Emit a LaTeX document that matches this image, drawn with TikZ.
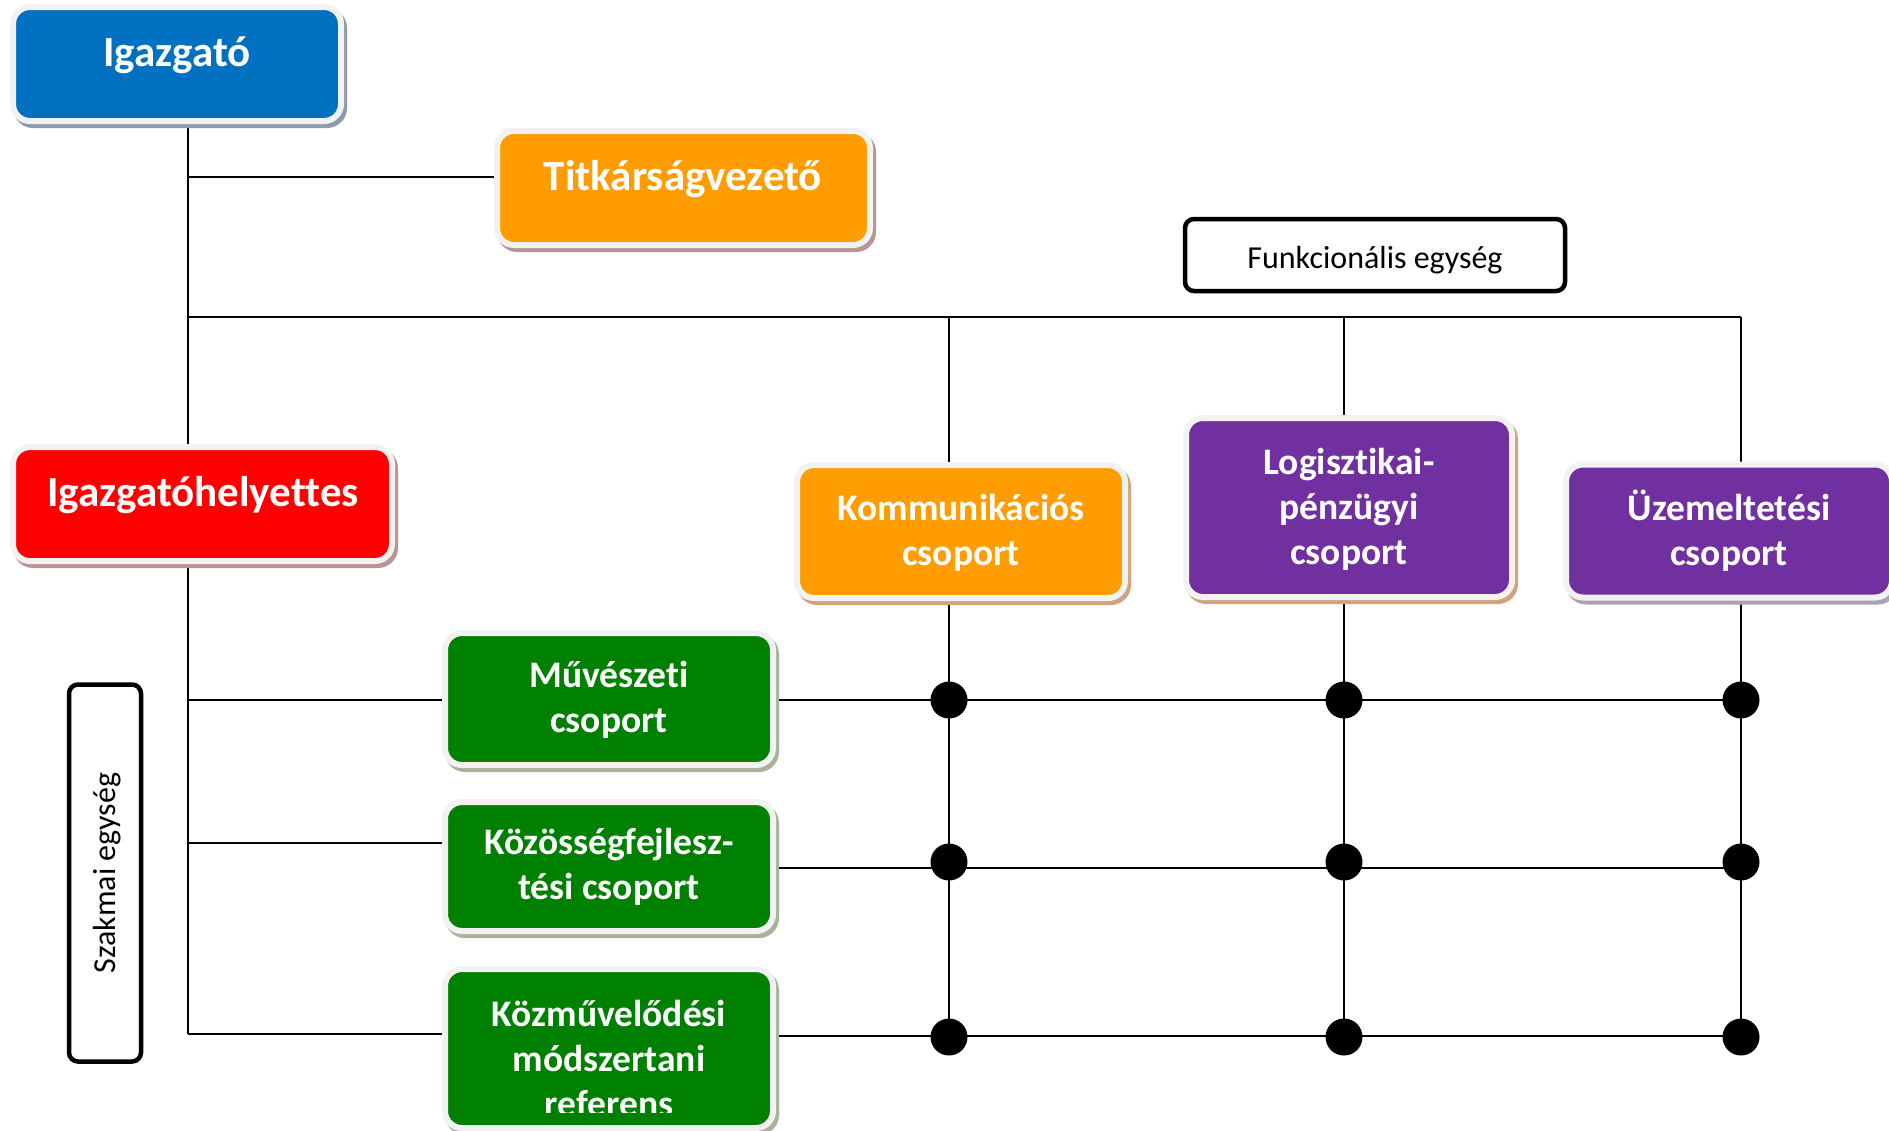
\documentclass[tikz,border=0pt]{standalone}
\usepackage{fontspec}
\setmainfont[Ligatures=NoCommon]{Carlito}
\usetikzlibrary{backgrounds}
\definecolor{cblue}{HTML}{0070C0}
\definecolor{corange}{HTML}{FF9C00}
\definecolor{cred}{HTML}{FF0000}
\definecolor{cpurple}{HTML}{7030A0}
\definecolor{cgreen}{HTML}{008000}
\definecolor{framegray}{HTML}{F2F2F2}
\definecolor{shblue}{HTML}{8E9BAF}
\definecolor{shpink}{HTML}{B89494}
\definecolor{shtan}{HTML}{D2A47E}
\definecolor{shlilac}{HTML}{A9A2B5}
\definecolor{shgreen}{HTML}{A8B299}
\begin{document}
\begin{tikzpicture}[x=1pt,y=-1pt,
  box/.style={rectangle, rounded corners=17pt, draw=framegray, line width=6pt, inner sep=0pt},
  sh/.style={preaction={draw=#1, fill=#1, line width=6pt, transform canvas={shift={(3pt,-4pt)}}}},
  bigtext/.style={text=white, align=center, inner sep=0pt, font=\bfseries\fontsize{43}{50}\selectfont},
  btext/.style={text=white, align=center, inner sep=0pt, font=\bfseries\fontsize{37.5}{45}\selectfont},
  conn/.style={line width=2pt, draw=black},
  dotnode/.style={circle, fill=black, minimum size=37pt, inner sep=0pt},
  unitbox/.style={rectangle, draw=black, line width=4.5pt, rounded corners=9pt, inner sep=0pt},
  unittext/.style={inner sep=0pt, font=\fontsize{32}{38}\selectfont}
]
\useasboundingbox (0,0) rectangle (1889,1130);

% coordinates for connector lines
\coordinate (xT) at (188,0);
\coordinate (xA) at (949,0);
\coordinate (xB) at (1344,0);
\coordinate (xC) at (1741,0);
\coordinate (yT) at (0,177);
\coordinate (yH) at (0,317);
\coordinate (y1) at (0,700);
\coordinate (y2L) at (0,843);
\coordinate (y2R) at (0,868);
\coordinate (y2D) at (0,862);
\coordinate (y3L) at (0,1034);
\coordinate (y3R) at (0,1036);
\coordinate (y3D) at (0,1037);

% boxes
\node[box, sh=shblue, fill=cblue, minimum width=328pt, minimum height=114pt] (igaz) at (177,64) {};
\node[bigtext] (igazT) at (177,55) {Igazgató};

\node[box, sh=shpink, fill=corange, minimum width=373pt, minimum height=114pt] (titk) at (683.5,188) {};
\node[bigtext] (titkT) at (683,179) {Titkárságvezető};

\node[box, sh=shpink, fill=cred, minimum width=379pt, minimum height=114pt] (hely) at (202.5,504) {};
\node[bigtext] (helyT) at (203,495) {Igazgatóhelyettes};

\node[box, sh=shtan, fill=corange, minimum width=328pt, minimum height=133pt] (komm) at (961,531.5) {};
\node[btext] (kommT) at (961,533) {Kommunikációs\\csoport};

\node[box, sh=shtan, fill=cpurple, minimum width=326pt, minimum height=179pt] (logi) at (1349,507.5) {};
\node[btext] (logiT) at (1349,509.5) {Logisztikai-\\pénzügyi\\csoport};

\node[box, sh=shlilac, fill=cpurple, minimum width=326pt, minimum height=133pt] (uzem) at (1729,531) {};
\node[btext] (uzemT) at (1729,531) {Üzemeltetési\\csoport};

\node[box, sh=shgreen, fill=cgreen, minimum width=328pt, minimum height=132pt] (muv) at (609,699) {};
\node[btext] (muvT) at (609,699.5) {Művészeti\\csoport};

\node[box, sh=shgreen, fill=cgreen, minimum width=328pt, minimum height=129pt] (koz) at (609,866.5) {};
\node[btext] (kozT) at (609,867) {Közösségfejlesz-\\tési csoport};

\node[box, sh=shgreen, fill=cgreen, minimum width=328pt, minimum height=159pt] (kozm) at (609,1048.5) {};
\begin{scope}
  \clip (440,960) rectangle (780,1112);
  \node[btext] (kozmT) at (609,1058) {Közművelődési\\módszertani\\referens};
\end{scope}

\node[unitbox, minimum width=380pt, minimum height=72pt] (funk) at (1375,255) {};
\node[unittext] (funkT) at (1375,260) {Funkcionális egység};

\node[unitbox, minimum width=72pt, minimum height=377pt] (szak) at (105,873) {};
\node[unittext, rotate=90] (szakT) at (107,873) {Szakmai egység};

% connectors (behind the boxes)
\begin{pgfonlayer}{background}
  \draw[conn] (igaz.south -| xT) -- (xT |- y3L);
  \draw[conn] (xT |- yT) -- (titk.west |- yT);
  \draw[conn] (xT |- yH) -- (xC |- yH);
  \draw[conn] (xA |- yH) -- (xA |- y3R);
  \draw[conn] (xB |- yH) -- (xB |- y3R);
  \draw[conn] (xC |- yH) -- (xC |- y3R);
  \draw[conn] (xT |- y1) -- (muv.west |- y1);
  \draw[conn] (xT |- y2L) -- (koz.west |- y2L);
  \draw[conn] (xT |- y3L) -- (kozm.west |- y3L);
  \draw[conn] (muv.east |- y1) -- (xC |- y1);
  \draw[conn] (koz.east |- y2R) -- (xC |- y2R);
  \draw[conn] (kozm.east |- y3R) -- (xC |- y3R);
\end{pgfonlayer}

% junction dots
\node[dotnode] (d11) at (xA |- y1) {};
\node[dotnode] (d12) at (xB |- y1) {};
\node[dotnode] (d13) at (xC |- y1) {};
\node[dotnode] (d21) at (xA |- y2D) {};
\node[dotnode] (d22) at (xB |- y2D) {};
\node[dotnode] (d23) at (xC |- y2D) {};
\node[dotnode] (d31) at (xA |- y3D) {};
\node[dotnode] (d32) at (xB |- y3D) {};
\node[dotnode] (d33) at (xC |- y3D) {};
\end{tikzpicture}
\end{document}
